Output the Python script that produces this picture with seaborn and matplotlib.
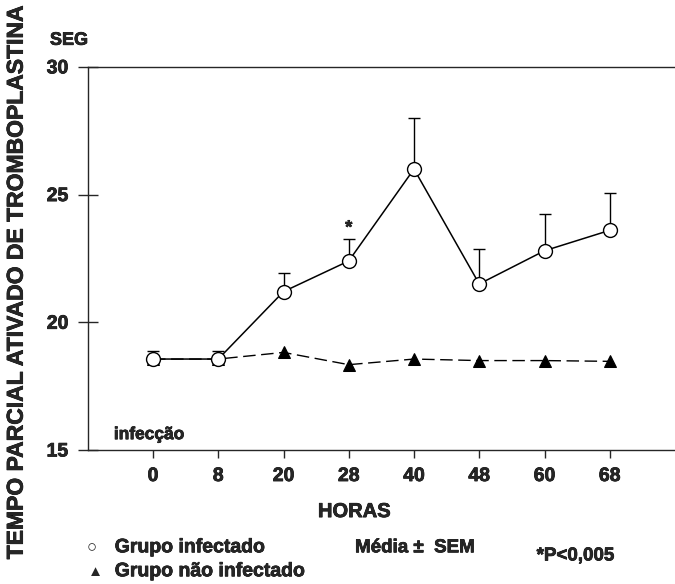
import numpy as np
import pandas as pd
import matplotlib
matplotlib.use("Agg")
import matplotlib.pyplot as plt
import matplotlib.patheffects as pe
import seaborn as sns

# values (seconds)
horas = ["0", "8", "20", "28", "40", "48", "60", "68"]
infectado = [18.56, 18.56, 21.2, 22.4, 26.0, 21.5, 22.8, 23.6]
infectadoSem = [0.30, 0.30, 0.72, 0.85, 2.0, 1.35, 1.42, 1.45]
naoInfectado = [18.56, 18.56, 18.82, 18.34, 18.56, 18.50, 18.50, 18.47]

sns.set_style("ticks")
plt.rcParams['font.family'] = ['Liberation Sans', 'DejaVu Sans']
plt.rcParams['font.weight'] = 'bold'

# scanned text is heavy, thicken it a bit
heavy = [pe.withStroke(linewidth=0.5, foreground="black")]

pos = np.arange(len(horas))
df = pd.DataFrame({"pos": pos, "inf": infectado, "sem": infectadoSem, "nao": naoInfectado})

fig = plt.figure(figsize=(6.75, 5.84), dpi=100)
ax = fig.add_axes([0.130, 0.2295, 0.870, 0.656])

# non infected, dashed with filled triangles
sns.lineplot(data=df, x="pos", y="nao", ax=ax, color="black", linewidth=1,
             linestyle=(0, (9, 4)), marker="^", markersize=8, markeredgecolor="black", zorder=2)
# infected, solid with open circles and upper SEM bars
ax.errorbar(df["pos"], df["inf"], yerr=[np.zeros(len(df)), df["sem"]], fmt="none",
            ecolor="black", elinewidth=1, capsize=4, capthick=1, zorder=3)
sns.lineplot(data=df, x="pos", y="inf", ax=ax, color="black", linewidth=1.1,
             marker="o", markersize=10, markerfacecolor="white", markeredgecolor="black",
             markeredgewidth=1, zorder=4)

ax.text(pos[3], df["inf"][3] + df["sem"][3] + 0.1, "*", ha="center", va="bottom",
        fontsize=13, path_effects=heavy)

ax.set_xlim(-1, 8)
ax.set_ylim(15, 30)
ax.set_xticks(pos)
ax.set_xticklabels(horas)
ax.set_yticks([15, 20, 25, 30])
ax.tick_params(axis="x", direction="out", length=6, width=1, labelsize=14, pad=7)
ax.tick_params(axis="y", direction="inout", length=14, width=1, labelsize=14, pad=7)
for lab in ax.get_xticklabels() + ax.get_yticklabels():
    lab.set_fontweight("bold")
    lab.set_path_effects(heavy)
ax.spines["right"].set_visible(False)
for s in ["left", "top", "bottom"]:
    ax.spines[s].set_linewidth(1)

ax.set_xlabel("HORAS", fontsize=14.5, fontweight="bold", path_effects=heavy)
ax.xaxis.set_label_coords(0.454, -0.136)
ax.set_ylabel("")
fig.text(0.024, 0.515, "TEMPO PARCIAL ATIVADO DE TROMBOPLASTINA", rotation=90,
         ha="center", va="center", fontsize=16.5, fontweight="bold", path_effects=heavy)
fig.text(0.074, 0.931, "SEG", ha="left", va="center", fontsize=13, fontweight="bold",
         path_effects=heavy)
ax.text(-0.6, 15.6, "infecção", ha="left", va="center", fontsize=12.5, fontweight="bold",
        path_effects=heavy)

# legend / notes below the chart
fig.text(0.128, 0.062, "\u25cb", ha="left", va="center", fontsize=12)
fig.text(0.170, 0.062, "Grupo infectado", ha="left", va="center", fontsize=14,
         fontweight="bold", path_effects=heavy)
fig.text(0.130, 0.021, "\u25b2", ha="left", va="center", fontsize=11)
fig.text(0.170, 0.021, "Grupo não infectado", ha="left", va="center", fontsize=14,
         fontweight="bold", path_effects=heavy)
fig.text(0.526, 0.062, "Média ±  SEM", ha="left", va="center", fontsize=13.5,
         fontweight="bold", path_effects=heavy)
fig.text(0.795, 0.048, "*P<0,005", ha="left", va="center", fontsize=13.5,
         fontweight="bold", path_effects=heavy)

fig.savefig("out.png", dpi=100)
